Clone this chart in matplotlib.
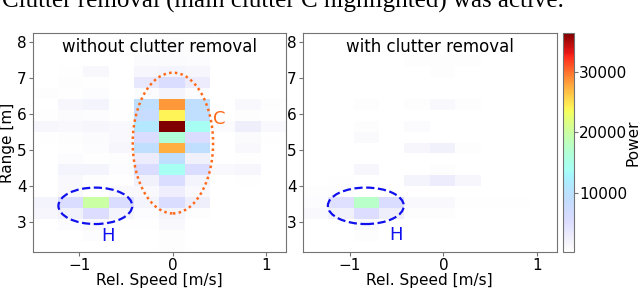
import numpy as np
import matplotlib
matplotlib.use("Agg")
import matplotlib.pyplot as plt
from matplotlib.colors import ListedColormap
from matplotlib.patches import Ellipse

# speed / range bins of the radar map
speed_edges = np.linspace(-1.5, 1.21, 11)
range_edges = np.linspace(2.18, 8.25, 21)

# power values, rows listed from the top range bin (8.25 m) down to 2.18 m
power_raw = [
    [0, 0, 0, 0, 300, 500, 300, 0, 0, 0],
    [0, 0, 0, 0, 500, 700, 500, 0, 0, 0],
    [0, 0, 0, 0, 800, 800, 600, 0, 0, 0],
    [0, 300, 1200, 0, 1500, 1800, 1500, 0, 0, 0],
    [0, 500, 300, 0, 3600, 5500, 2900, 0, 0, 0],
    [500, 300, 700, 0, 700, 1800, 700, 0, 0, 0],
    [0, 1500, 1800, 300, 9100, 28500, 9100, 0, 1100, 500],
    [300, 800, 700, 300, 8000, 24100, 9100, 0, 500, 300],
    [1500, 1100, 1500, 1100, 11000, 36500, 13900, 800, 2500, 1100],
    [300, 500, 800, 1100, 5500, 16400, 5500, 0, 800, 300],
    [0, 300, 700, 1500, 9100, 27500, 9100, 0, 1100, 0],
    [0, 700, 300, 500, 2900, 9100, 2200, 0, 300, 0],
    [0, 1800, 1800, 700, 5500, 13900, 5500, 1100, 1500, 0],
    [0, 1100, 500, 300, 2200, 5500, 1800, 0, 300, 0],
    [0, 1100, 300, 1100, 1100, 2600, 1100, 0, 0, 0],
    [1800, 5500, 20000, 5500, 1800, 5500, 2500, 0, 0, 0],
    [1500, 2200, 5100, 1800, 700, 1800, 500, 0, 0, 0],
    [0, 700, 1100, 300, 300, 1100, 0, 0, 0, 0],
    [0, 0, 700, 0, 0, 500, 0, 0, 0, 0],
    [0, 0, 0, 0, 0, 500, 0, 0, 0, 0],
]

power_removed = [
    [0, 0, 0, 0, 0, 0, 0, 0, 0, 0],
    [0, 0, 0, 0, 0, 0, 0, 0, 0, 0],
    [0, 0, 0, 0, 500, 500, 500, 0, 0, 0],
    [0, 0, 0, 0, 0, 500, 0, 0, 0, 0],
    [0, 0, 0, 0, 0, 0, 0, 0, 0, 0],
    [0, 0, 0, 0, 0, 0, 0, 0, 0, 0],
    [0, 0, 500, 0, 500, 1100, 500, 0, 0, 0],
    [0, 0, 0, 0, 0, 0, 0, 0, 0, 0],
    [0, 0, 500, 0, 800, 0, 0, 0, 0, 0],
    [0, 0, 1000, 0, 0, 0, 0, 0, 0, 0],
    [0, 0, 0, 0, 1500, 2200, 500, 0, 0, 0],
    [0, 0, 0, 0, 0, 0, 0, 0, 0, 0],
    [0, 0, 1500, 0, 0, 500, 0, 0, 0, 0],
    [0, 300, 0, 0, 1800, 2900, 1500, 0, 0, 0],
    [500, 500, 0, 0, 0, 0, 0, 0, 0, 0],
    [700, 4700, 17500, 5500, 1100, 1100, 300, 300, 300, 0],
    [1100, 2200, 5100, 2500, 500, 500, 0, 0, 0, 0],
    [0, 0, 1100, 0, 0, 0, 0, 0, 0, 0],
    [0, 0, 500, 0, 0, 0, 0, 0, 0, 0],
    [0, 0, 0, 0, 0, 0, 0, 0, 0, 0],
]

titles = ["without clutter removal", "with clutter removal"]
vmin, vmax = 150, 36500

# jet faded into white at the low end
t = np.linspace(0, 1, 256)
jet = plt.get_cmap("jet")(t)[:, :3]
cols = 1 - t[:, None] * (1 - jet)
cmap = ListedColormap(cols)

fig = plt.figure(figsize=(6.4, 2.88), dpi=100)
fig.text(0.003, 1 - 8 / 288, "Clutter removal (main clutter C highlighted) was active.",
         family="Liberation Serif", fontsize=18, ha="left", va="baseline")

ax1 = fig.add_axes([0.0511, 0.125, 0.3958, 0.7604])
ax2 = fig.add_axes([0.473, 0.125, 0.397, 0.7604])
cax = fig.add_axes([0.879, 0.125, 0.0172, 0.7604])

for ax, data, title in zip([ax1, ax2], [power_raw, power_removed], titles):
    Z = np.array(data, dtype=float)[::-1]
    Z = np.clip(Z, vmin, None)
    mesh = ax.pcolormesh(speed_edges, range_edges, Z, cmap=cmap, vmin=vmin, vmax=vmax)
    ax.set_xlim(-1.5, 1.21)
    ax.set_ylim(2.18, 8.25)
    ax.set_xticks([-1, 0, 1])
    ax.set_yticks([3, 4, 5, 6, 7, 8])
    ax.tick_params(labelsize=11, length=3, color="0.45", pad=1.5)
    for s in ax.spines.values():
        s.set_color("0.45")
    ax.set_xlabel("Rel. Speed [m/s]", fontsize=11, labelpad=0)
    ax.text(0.5, 0.975, title, transform=ax.transAxes, ha="center", va="top", fontsize=12)

ax1.set_ylabel("Range [m]", fontsize=11, labelpad=1)

# highlighted targets
ax1.add_patch(Ellipse((0.0, 5.2), 0.86, 3.9, fill=False, ec="#ff6a1a", ls=(0, (1, 1.3)), lw=1.8))
ax1.text(0.5, 5.88, "C", color="#ff6a1a", fontsize=13, ha="center", va="center")
ax1.add_patch(Ellipse((-0.83, 3.46), 0.79, 1.01, fill=False, ec="#1010ee", ls="--", lw=1.6))
ax1.text(-0.69, 2.62, "H", color="#1010ee", fontsize=13, ha="center", va="center")
ax2.add_patch(Ellipse((-0.827, 3.46), 0.81, 1.01, fill=False, ec="#1010ee", ls="--", lw=1.6))
ax2.text(-0.51, 2.66, "H", color="#1010ee", fontsize=13, ha="center", va="center")

cb = fig.colorbar(mesh, cax=cax)
cb.set_ticks([10000, 20000, 30000])
cb.ax.tick_params(labelsize=11, length=3, color="0.45", pad=1)
cb.outline.set_edgecolor("0.45")
cb.set_label("Power", fontsize=11, labelpad=-1)

fig.savefig("out.png", dpi=100)
